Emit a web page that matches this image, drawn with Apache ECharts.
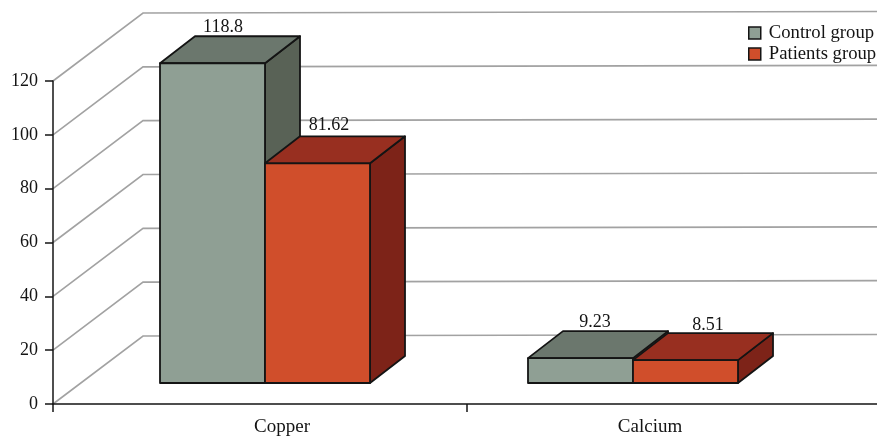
<!DOCTYPE html>
<html>
<head>
<meta charset="utf-8">
<style>html,body{margin:0;padding:0;background:#fff}#chart{width:877px;height:437px}</style>
<script src="https://cdn.jsdelivr.net/npm/echarts@6/dist/echarts.min.js"></script>
</head>
<body>
<div id="chart"></div>
<script>
// Trace elements by group
const categories = ['Copper', 'Calcium'];
const controlGroup = [118.8, 9.23];
const patientsGroup = [81.62, 8.51];
const yTicks = [0, 20, 40, 60, 80, 100, 120];

// Oblique projection of the box: floor depth, bar depth, and where a bar stands on the floor
const FLOOR_DX = 90, FLOOR_DY = 68;
const BAR_DX = 35, BAR_DY = 27;
const STAND_DX = 28, STAND_DY = 21;
const BAR_BAND_RATIO = 105 / 368;
const INK = '#141414';
const FONT = '"Liberation Serif", "Times New Roman", serif';

const palette = {
  control: { front: '#8f9f94', top: '#6b776d', side: '#596256' },
  patients: { front: '#d04e2b', top: '#982f20', side: '#7d2318' }
};
// Value-label nudges from the middle of each bar's top edge, per series and category
const labelNudge = {
  control: [[10.5, -35.5], [14.5, -36]],
  patients: [[11.5, -38], [22.5, -35]]
};

function wallItem(params, api) {
  const y = api.coord([0, api.value(1)])[1];
  const x0 = params.coordSys.x;
  const xb = x0 + FLOOR_DX, yb = y - FLOOR_DY;
  return {
    type: 'polyline',
    shape: { points: [[x0, y], [xb, yb], [api.getWidth(), yb - 1.5]] },
    style: { fill: null, stroke: '#a2a2a2', lineWidth: 1.6 }
  };
}

function barRenderer(seriesIndex, colors, nudges) {
  return function (params, api) {
    const cat = api.value(0), val = api.value(1);
    const band = api.size([1, 0])[0];
    const w = band * BAR_BAND_RATIO;
    const c = api.coord([cat, 0]);
    const xl = c[0] + STAND_DX - w + seriesIndex * w;
    const xr = xl + w;
    const yb = c[1] - STAND_DY;
    const yt = api.coord([cat, val])[1] - STAND_DY;
    const line = { stroke: INK, lineWidth: 1.8, lineJoin: 'round' };
    const n = nudges[params.dataIndex];
    return {
      type: 'group',
      children: [
        { type: 'polygon', shape: { points: [[xr, yb], [xr + BAR_DX, yb - BAR_DY], [xr + BAR_DX, yt - BAR_DY], [xr, yt]] },
          style: Object.assign({ fill: colors.side }, line) },
        { type: 'polygon', shape: { points: [[xl, yt], [xl + BAR_DX, yt - BAR_DY], [xr + BAR_DX, yt - BAR_DY], [xr, yt]] },
          style: Object.assign({ fill: colors.top }, line) },
        { type: 'rect', shape: { x: xl, y: yt, width: w, height: yb - yt },
          style: Object.assign({ fill: colors.front }, line) },
        { type: 'text', x: (xl + xr) / 2 + n[0], y: yt + n[1],
          style: { text: String(val), fill: INK, font: '18px ' + FONT, align: 'center', verticalAlign: 'middle' } }
      ]
    };
  };
}

function pairs(values) {
  return values.map((v, i) => [i, v]);
}

const chart = echarts.init(document.getElementById('chart'), null, { renderer: 'canvas' });
chart.setOption({
  animation: false,
  backgroundColor: '#fff',
  textStyle: { fontFamily: FONT },
  legend: {
    orient: 'vertical', left: 748, top: 23.5, padding: 0, itemWidth: 12, itemHeight: 12, itemGap: 2,
    icon: 'rect',
    selectedMode: false,
    data: ['Control group', 'Patients group'],
    itemStyle: { borderColor: INK, borderWidth: 1.5 },
    textStyle: { fontFamily: FONT, fontSize: 18.7, color: INK, padding: [0, 0, 0, 3] }
  },
  grid: [
    // Front plane holding the bands the bars stand in
    { left: 53, top: 81, width: 736, height: 323, outerBoundsMode: 'none' },
    // Baseline running out past the right edge, with its two visible ticks
    { left: 53, top: 81, width: 828, height: 323, outerBoundsMode: 'none' }
  ],
  xAxis: [
    { gridIndex: 0, type: 'category', data: categories, z: 5,
      axisLine: { show: false }, axisTick: { show: false },
      axisLabel: { color: INK, fontFamily: FONT, fontSize: 19, margin: 14, padding: [0, 0, 0, 90] } },
    { gridIndex: 1, type: 'category', data: categories, z: 5,
      axisLine: { lineStyle: { color: INK, width: 1.5 } },
      axisTick: { show: true, interval: 0, length: 8, lineStyle: { color: INK, width: 1.5 } },
      axisLabel: { show: true, formatter: () => '' } }
  ],
  yAxis: [
    { gridIndex: 0, type: 'value', min: 0, max: 120, interval: 20, z: 5,
      splitLine: { show: false },
      axisLine: { show: true, lineStyle: { color: INK, width: 1.5 } },
      axisTick: { show: true, length: 8, lineStyle: { color: INK, width: 1.5 } },
      axisLabel: { color: INK, fontFamily: FONT, fontSize: 18, margin: 15 } },
    { gridIndex: 1, type: 'value', min: 0, max: 120, interval: 20, show: false }
  ],
  series: [
    { type: 'custom', name: 'walls', xAxisIndex: 0, yAxisIndex: 0, silent: true, z: 1,
      renderItem: wallItem, data: yTicks.map(v => [0, v]), encode: { x: 0, y: 1 } },
    { type: 'custom', name: 'Control group', xAxisIndex: 0, yAxisIndex: 0, silent: true, z: 2,
      itemStyle: { color: palette.control.front },
      renderItem: barRenderer(0, palette.control, labelNudge.control),
      data: pairs(controlGroup), encode: { x: 0, y: 1 } },
    { type: 'custom', name: 'Patients group', xAxisIndex: 0, yAxisIndex: 0, silent: true, z: 3,
      itemStyle: { color: palette.patients.front },
      renderItem: barRenderer(1, palette.patients, labelNudge.patients),
      data: pairs(patientsGroup), encode: { x: 0, y: 1 } },
    // Carries the baseline axis
    { type: 'line', xAxisIndex: 1, yAxisIndex: 1, silent: true, showSymbol: false,
      lineStyle: { opacity: 0 }, data: categories.map(() => '-') }
  ]
});
</script>
</body>
</html>
